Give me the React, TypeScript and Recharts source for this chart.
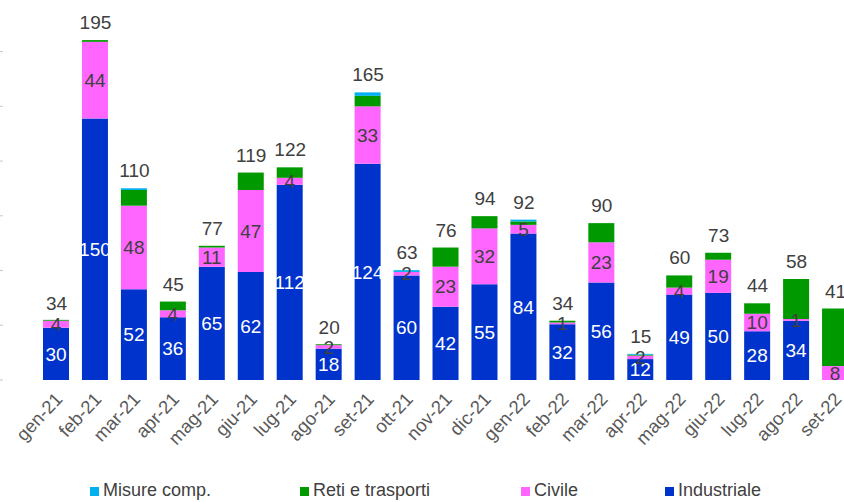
import React from 'react';
import { ComposedChart, Bar, Line, XAxis, YAxis, Legend, LabelList } from 'recharts';

const categories = ['gen-21', 'feb-21', 'mar-21', 'apr-21', 'mag-21', 'giu-21', 'lug-21', 'ago-21', 'set-21', 'ott-21', 'nov-21', 'dic-21', 'gen-22', 'feb-22', 'mar-22', 'apr-22', 'mag-22', 'giu-22', 'lug-22', 'ago-22', 'set-22'];
const industriale = [30, 150, 52, 36, 65, 62, 112, 18, 124, 60, 42, 55, 84, 32, 56, 12, 49, 50, 28, 34, 0];
const civile = [4, 44, 48, 4, 11, 47, 4, 2, 33, 2, 23, 32, 5, 1, 23, 2, 4, 19, 10, 1, 8];
const retiTrasporti = [0.5, 1, 9, 5, 1, 10, 6, 0.5, 6, 0, 11, 7, 2, 1, 11, 0.5, 7, 4, 6, 23, 33];
const misureComp = [0, 0, 1, 0, 0, 0, 0, 0, 2, 1, 0, 0, 1, 0, 0, 0.5, 0, 0, 0, 0, 0];
const totals = [34, 195, 110, 45, 77, 119, 122, 20, 165, 63, 76, 94, 92, 34, 90, 15, 60, 73, 44, 58, 41];
const yTicks = [0, 31.4, 62.8, 94.2, 125.6, 157, 188.4];
const boundaryTicks = [0, 1, 2, 3, 4, 5, 6, 7, 8, 9, 10, 11, 12, 13, 14, 15, 16, 17, 18, 19, 20, 21];

const COLORS = {
  misure: '#00B0F0',
  reti: '#009900',
  civile: '#FF66FF',
  industriale: '#0033CC',
};

const legendItems = [
  { label: 'Misure comp.', color: COLORS.misure },
  { label: 'Reti e trasporti', color: COLORS.reti },
  { label: 'Civile', color: COLORS.civile },
  { label: 'Industriale', color: COLORS.industriale },
];
const legendLeft = [90, 300, 521, 665];

const data = categories.map((month, i) => ({
  month,
  pos: i + 0.5,
  industriale: industriale[i],
  civile: civile[i],
  reti: retiTrasporti[i],
  misure: misureComp[i],
  total: totals[i],
}));

const FONT = '"Liberation Sans", Arial, sans-serif';

const XTick = (props: any) => {
  const { x, y, payload } = props;
  return (
    <g transform={`translate(${x + 7},${y + 20})`}>
      <text x={0} y={0} transform="rotate(-47)" textAnchor="end" fontFamily={FONT} fontSize={18.5} fill="#595959">
        {payload.value}
      </text>
    </g>
  );
};

const YTick = (props: any) => {
  const { y } = props;
  return <line x1={0} x2={3} y1={y} y2={y} stroke="#c8c8c8" strokeWidth={1} />;
};

const EmptyTick = () => <g />;

const LegendContent = () => (
  <div style={{ position: 'relative', height: 32, width: 855, fontFamily: FONT, fontSize: 18, color: '#404040' }}>
    {legendItems.map((it, i) => (
      <div key={it.label} style={{ position: 'absolute', left: legendLeft[i], top: 11, display: 'flex', alignItems: 'center', lineHeight: '18px', whiteSpace: 'nowrap' }}>
        <span style={{ display: 'inline-block', width: 9, height: 9, background: it.color, marginRight: 4, marginTop: 3 }} />
        <span>{it.label}</span>
      </div>
    ))}
  </div>
);

const hideZero = (v: any) => (v ? v : '');

export default function App() {
  return (
    <div style={{ position: 'fixed', left: 0, top: 0, width: 844, height: 502, overflow: 'hidden', background: '#fff' }}>
      <ComposedChart width={855} height={502} data={data} margin={{ top: 0, right: 0, bottom: 0, left: 0 }} barSize={26}>
        <XAxis
          xAxisId="grid"
          type="number"
          dataKey="pos"
          domain={[0, 21]}
          ticks={boundaryTicks}
          tick={EmptyTick}
          tickSize={6}
          tickLine={{ stroke: '#d9d9d9' }}
          axisLine={{ stroke: '#d9d9d9' }}
          height={0}
          allowDataOverflow
        />
        <XAxis
          dataKey="month"
          interval={0}
          axisLine={false}
          tickLine={false}
          tickSize={0}
          tickMargin={0}
          tick={<XTick />}
          height={90}
        />
        <YAxis width={37} domain={[0, 218]} ticks={yTicks} axisLine={false} tickLine={false} tick={<YTick />} allowDataOverflow />
        <Legend verticalAlign="bottom" content={<LegendContent />} wrapperStyle={{ left: 0, width: 855, height: 32 }} />
        <Bar dataKey="industriale" stackId="a" fill={COLORS.industriale} isAnimationActive={false}>
          <LabelList dataKey="industriale" position="center" fill="#ffffff" fontSize={19} fontFamily={FONT} formatter={hideZero} />
        </Bar>
        <Bar dataKey="civile" stackId="a" fill={COLORS.civile} isAnimationActive={false}>
          <LabelList dataKey="civile" position="center" fill="#404040" fontSize={19} fontFamily={FONT} formatter={hideZero} />
        </Bar>
        <Bar dataKey="reti" stackId="a" fill={COLORS.reti} isAnimationActive={false} />
        <Bar dataKey="misure" stackId="a" fill={COLORS.misure} isAnimationActive={false} />
        <Line dataKey="total" stroke="none" dot={false} activeDot={false} legendType="none" isAnimationActive={false}>
          <LabelList dataKey="total" position="top" offset={11} fill="#404040" fontSize={19} fontFamily={FONT} />
        </Line>
      </ComposedChart>
    </div>
  );
}
